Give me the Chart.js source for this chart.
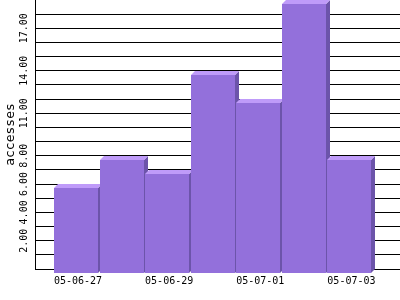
<!DOCTYPE html>
<html>
<head>
<meta charset="utf-8">
<script src="https://cdn.jsdelivr.net/npm/chart.js@4/dist/chart.umd.min.js"></script>
<style>
  html, body { margin: 0; padding: 0; background: #ffffff; }
  #wrap { width: 400px; height: 300px; }
</style>
</head>
<body>
<div id="wrap"><canvas id="c" width="400" height="300"></canvas></div>
<script>
// ---- data ----
const CATEGORIES = ['05-06-27', '05-06-28', '05-06-29', '05-06-30', '05-07-01', '05-07-02', '05-07-03'];
const ACCESSES = [6, 8, 7, 14, 12, 19, 8];
const X_TICK_LABELS = ['05-06-27', '05-06-29', '05-07-01', '05-07-03'];
const Y_TICK_LABELS = ['2.00', '4.00', '6.00', '8.00', '11.00', '14.00', '17.00'];
const Y_GRID_VALUES = [0, 1, 2, 3, 4, 5, 6, 7, 8, 9, 10, 11, 12, 13, 14, 15, 16, 17, 18];
const Y_MAX = 19;
const Y_TITLE = 'accesses';

const FRONT = '#9370db';
const TOP = '#bf9bf9';
const SIDE = '#6c54aa';

const bars3d = {
  id: 'bars3d',
  beforeDatasetDraw() { return false; },
  afterDatasetsDraw(chart, args, opts) {
    const ctx = chart.ctx;
    const d = opts.depth;
    ctx.save();
    chart.getDatasetMeta(0).data.forEach(el => {
      const p = el.getProps(['x', 'y', 'base', 'width'], true);
      const l = Math.round(p.x - p.width / 2);
      const r = l + Math.round(p.width);
      const y = Math.round(p.y);
      const b = Math.round(p.base);
      // side
      ctx.fillStyle = SIDE;
      ctx.beginPath();
      ctx.moveTo(r, y + d); ctx.lineTo(r + d, y); ctx.lineTo(r + d, b); ctx.lineTo(r, b + d);
      ctx.closePath(); ctx.fill();
      // top
      ctx.fillStyle = TOP;
      ctx.beginPath();
      ctx.moveTo(l, y + d); ctx.lineTo(l + d, y); ctx.lineTo(r + d, y); ctx.lineTo(r, y + d);
      ctx.closePath(); ctx.fill();
      // front
      ctx.fillStyle = FRONT;
      ctx.fillRect(l, y + d, r - l, b - y);
    });
    ctx.restore();
  }
};

Chart.defaults.font.family = 'DejaVu Sans Mono';
Chart.defaults.color = '#000000';

new Chart(document.getElementById('c'), {
  type: 'bar',
  data: {
    datasets: [{
      label: Y_TITLE,
      data: ACCESSES.map((v, i) => ({ x: i, y: v })),
      backgroundColor: FRONT,
      barThickness: 44
    }]
  },
  options: {
    responsive: false,
    animation: false,
    devicePixelRatio: 1,
    layout: { padding: 0 },
    plugins: {
      legend: { display: false },
      tooltip: { enabled: false },
      bars3d: { depth: 4 }
    },
    scales: {
      x: {
        type: 'linear',
        offset: false,
        min: -0.9,
        max: 7.11,
        grid: { display: false, drawTicks: false, offset: false },
        border: { display: true, color: '#000000', width: 1 },
        afterBuildTicks: s => { s.ticks = X_TICK_LABELS.map(t => ({ value: CATEGORIES.indexOf(t) })); },
        afterFit: s => { s.height = 31; s.paddingLeft = 0; s.paddingRight = 0; },
        ticks: {
          autoSkip: false,
          maxRotation: 0,
          minRotation: 0,
          padding: 6,
          labelOffset: 2,
          font: { size: 10 },
          color: '#000000',
          callback: v => CATEGORIES[v]
        }
      },
      y: {
        type: 'linear',
        min: 0,
        max: Y_MAX,
        grid: { display: true, color: '#000000', lineWidth: 1, drawTicks: false },
        border: { display: true, color: '#000000', width: 1 },
        afterBuildTicks: s => { s.ticks = Y_GRID_VALUES.map(v => ({ value: v })); },
        afterFit: s => { s.width = 35; s.paddingTop = 0; s.paddingBottom = 0; },
        ticks: {
          autoSkip: false,
          minRotation: 90,
          maxRotation: 90,
          crossAlign: 'center',
          padding: -4,
          font: { size: 10 },
          color: '#000000',
          callback: v => {
            const t = Y_TICK_LABELS.find(s => parseFloat(s) === v);
            return t === undefined ? '' : t;
          }
        },
        title: {
          display: true,
          text: Y_TITLE,
          font: { size: 13 },
          color: '#000000',
          padding: { top: 3, bottom: 0 }
        }
      }
    }
  },
  plugins: [bars3d]
});
</script>
</body>
</html>
